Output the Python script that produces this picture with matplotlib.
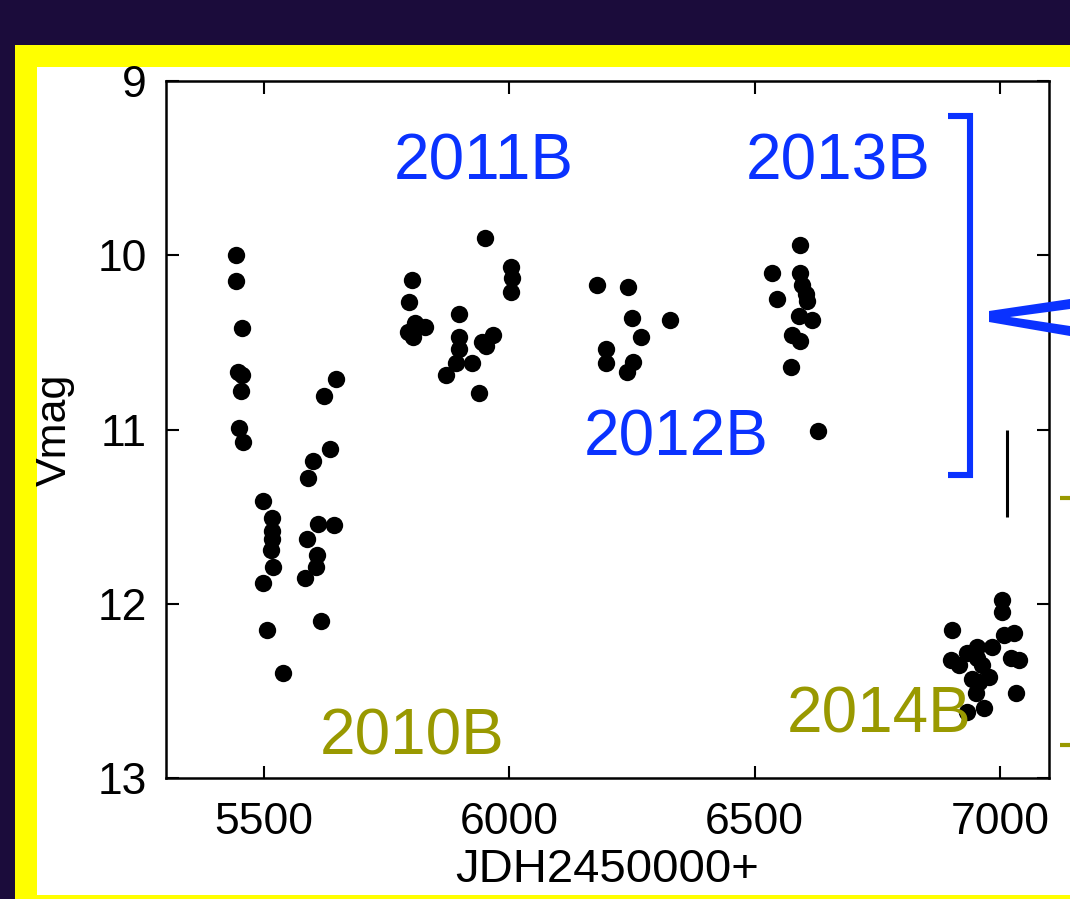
import matplotlib
matplotlib.use("Agg")
import matplotlib.pyplot as plt
from matplotlib.patches import Rectangle, Polygon

# V-band light curve, one group of points per observing season
jd_2010 = [5442, 5442, 5455, 5447, 5455, 5453, 5449, 5457, 5497, 5516, 5516, 5516,
           5514, 5518, 5497, 5506, 5538, 5646, 5622, 5634, 5599, 5589, 5609, 5642,
           5587, 5607, 5605, 5583, 5615]
v_2010 = [10.00, 10.15, 10.42, 10.67, 10.69, 10.78, 10.99, 11.07, 11.41, 11.51, 11.58,
          11.63, 11.69, 11.79, 11.88, 12.15, 12.40, 10.71, 10.81, 11.11, 11.18, 11.28,
          11.54, 11.55, 11.63, 11.72, 11.79, 11.85, 12.10]

jd_2011 = [5951, 5801, 5795, 5807, 5827, 5793, 5803, 5898, 5898, 5898, 5892, 5923,
           5870, 5939, 6004, 6006, 6004, 5966, 5945, 5953]
v_2011 = [9.90, 10.14, 10.27, 10.39, 10.41, 10.44, 10.47, 10.34, 10.47, 10.54, 10.62,
          10.62, 10.69, 10.79, 10.07, 10.13, 10.21, 10.46, 10.50, 10.52]

jd_2012 = [6179, 6242, 6249, 6328, 6269, 6196, 6196, 6251, 6240]
v_2012 = [10.17, 10.18, 10.36, 10.37, 10.47, 10.54, 10.62, 10.61, 10.67]

jd_2013 = [6592, 6535, 6592, 6546, 6597, 6605, 6607, 6590, 6617, 6576, 6592, 6574, 6629]
v_2013 = [9.94, 10.10, 10.10, 10.25, 10.17, 10.22, 10.26, 10.35, 10.37, 10.46, 10.49,
          10.64, 11.01]

jd_2014 = [7004, 7004, 6902, 7008, 7028, 6983, 6953, 6932, 6900, 6916, 6953, 6963,
           7022, 7038, 6943, 6977, 6957, 6951, 7032, 6967, 6932]
v_2014 = [11.98, 12.05, 12.15, 12.18, 12.17, 12.25, 12.25, 12.28, 12.32, 12.35, 12.31,
          12.35, 12.31, 12.32, 12.43, 12.42, 12.45, 12.51, 12.51, 12.60, 12.62]

x_ticks = [5500, 6000, 6500, 7000]
y_ticks = [9, 10, 11, 12, 13]

season_labels = ["2010B", "2011B", "2012B", "2013B", "2014B"]
season_label_x = [5801, 5947, 6340, 6670, 6753]
season_label_y = [12.77, 9.47, 11.05, 9.47, 12.64]
season_colors = ["#999900", "#0a32ff", "#0a32ff", "#0a32ff", "#999900"]

# error-bar scale: 0.5 mag
scale_x = 7014
scale_y = [11.0, 11.5]

plt.rcParams["font.family"] = ["Liberation Sans", "DejaVu Sans"]

W, H = 1070, 899
fig = plt.figure(figsize=(W / 100, H / 100), dpi=100)
fig.patch.set_facecolor("#1b0c3b")


def fx(px):
    return px / W


def fy(py):
    return 1 - py / H


# slide frame: yellow border with a white panel inside
fig.patches.append(Rectangle((fx(15), fy(899)), fx(1070 - 15), fy(45) - fy(899),
                             transform=fig.transFigure, facecolor="#ffff00",
                             edgecolor="none", zorder=-3))
fig.patches.append(Rectangle((fx(37), fy(895)), fx(1070 - 37), fy(67) - fy(895),
                             transform=fig.transFigure, facecolor="white",
                             edgecolor="none", zorder=-2))

ax = fig.add_axes([fx(166), fy(778), fx(1049 - 166), fy(81) - fy(778)])
ax.set_facecolor("white")

for jd, v in [(jd_2010, v_2010), (jd_2011, v_2011), (jd_2012, v_2012),
              (jd_2013, v_2013), (jd_2014, v_2014)]:
    ax.plot(jd, v, "o", color="black", markersize=12.5, markeredgewidth=0, zorder=3)

ax.set_xlim(5300, 7100)
ax.set_ylim(13, 9)
ax.set_xticks(x_ticks)
ax.set_yticks(y_ticks)
ax.tick_params(direction="in", length=9, width=1.5, top=True, right=True,
               labelsize=32, colors="black")
ax.tick_params(axis="x", pad=17)
ax.tick_params(axis="y", pad=14)
for s in ax.spines.values():
    s.set_linewidth(1.8)

ax.set_xlabel("JDH2450000+", fontsize=34)
ax.xaxis.label.set_va("center")
ax.xaxis.set_label_coords(0.5, -0.132)
ax.set_ylabel("Vmag", fontsize=31)
ax.yaxis.label.set_va("center")
ax.yaxis.set_label_coords(-0.126, 0.5)

for lab, x, y, c in zip(season_labels, season_label_x, season_label_y, season_colors):
    ax.text(x, y, lab, color=c, fontsize=46, ha="center", va="center", zorder=4)

ax.plot([scale_x, scale_x], scale_y, color="black", lw=2.2, solid_capstyle="butt",
        zorder=3)

# blue bracket around the bright seasons
blue = "#0a32ff"
bx = [fx(948), fx(970), fx(970), fx(948)]
by = [fy(116), fy(116), fy(475), fy(475)]
fig.lines.append(plt.Line2D(bx, by, transform=fig.transFigure, color=blue, lw=4.4,
                            solid_joinstyle="miter", solid_capstyle="butt", zorder=5))

# arrow head pointing at the bracket
fig.patches.append(Polygon([(fx(989), fy(311)), (fx(1070), fy(299)), (fx(1070), fy(309)),
                            (fx(1010), fy(317)), (fx(1070), fy(326)), (fx(1070), fy(336)),
                            (fx(989), fy(322))],
                           closed=True, transform=fig.transFigure, facecolor=blue,
                           edgecolor="none", zorder=5))

# olive ticks of the faint-season bracket
for py in (498, 745):
    fig.lines.append(plt.Line2D([fx(1060), fx(1070)], [fy(py), fy(py)],
                                transform=fig.transFigure, color="#999900", lw=3,
                                solid_capstyle="butt", zorder=5))

fig.savefig("out.png", dpi=100, facecolor=fig.get_facecolor())
